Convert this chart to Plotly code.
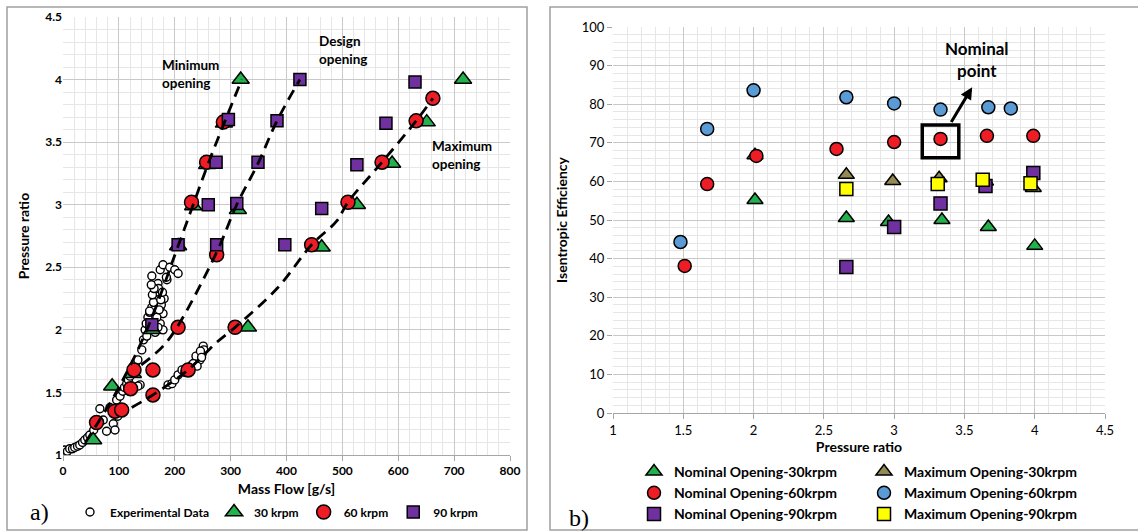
import plotly.graph_objects as go

# ---------------- Panel a) data: mass flow [g/s] vs pressure ratio ----------------
exp_flow = [3, 8, 12, 17, 21, 26, 30, 35, 39, 44, 48, 55, 61, 66, 72, 78, 84, 90, 93, 96, 98, 102,
            107, 110, 114, 117, 120, 123, 126, 130, 134, 138, 141, 144, 147, 149, 152, 155, 159,
            162, 165, 168, 159, 174, 179, 191, 200, 206, 174, 179, 179, 174, 170, 186, 134, 150,
            155, 162, 166, 171, 176, 181, 185, 160, 163, 168, 172, 175, 178, 170, 165, 158,
            188, 195, 200, 206, 213, 222, 231, 236, 242, 249, 251, 245, 252, 228, 218, 238, 246,
            233, 240, 248]
exp_pr = [1.04, 1.03, 1.05, 1.05, 1.06, 1.07, 1.08, 1.10, 1.12, 1.14, 1.16, 1.20, 1.25, 1.37, 1.28,
          1.19, 1.38, 1.25, 1.20, 1.44, 1.31, 1.47, 1.51, 1.54, 1.57, 1.60, 1.63, 1.67, 1.71, 1.74,
          1.76, 1.56, 1.84, 1.92, 2.00, 2.05, 2.10, 2.14, 2.18, 2.22, 2.27, 2.35, 2.43, 2.48, 2.52,
          2.50, 2.48, 2.45, 2.05, 2.13, 2.00, 2.18, 2.37, 2.40, 1.55, 1.95, 2.15, 2.22, 2.30, 2.33,
          2.20, 2.25, 2.42, 2.28, 2.33, 2.10, 2.16, 2.24, 2.30, 2.02, 1.98, 2.36,
          1.56, 1.57, 1.60, 1.64, 1.68, 1.69, 1.72, 1.74, 1.77, 1.81, 1.87, 1.76, 1.84, 1.70, 1.66,
          1.79, 1.83, 1.73, 1.71, 1.78]

k30_flow = [54, 88, 125, 159, 206, 233, 258, 288, 318, 313, 331, 463, 526, 589, 651, 716]
k30_pr = [1.12, 1.55, 1.65, 2.00, 2.67, 2.99, 3.32, 3.65, 4.00, 2.96, 2.02, 2.66, 3.00, 3.33, 3.66, 4.00]

k60_flow = [60, 93, 105, 121, 127, 230, 257, 287, 161, 206, 275, 161, 224, 308, 445, 510, 571, 632, 662]
k60_pr = [1.26, 1.35, 1.36, 1.53, 1.68, 3.02, 3.34, 3.66, 1.68, 2.02, 2.60, 1.48, 1.68, 2.02, 2.68,
          3.02, 3.34, 3.67, 3.85]

k90_flow = [159, 206, 260, 274, 296, 275, 311, 349, 383, 424, 397, 463, 526, 578, 630]
k90_pr = [2.04, 2.68, 3.00, 3.34, 3.68, 2.68, 3.01, 3.34, 3.67, 4.00, 2.68, 2.97, 3.32, 3.65, 3.98]

# trend lines
min_line_flow = [40, 95, 150, 206, 233, 260, 290, 320]
min_line_pr = [1.10, 1.50, 2.00, 2.67, 3.00, 3.33, 3.67, 4.00]
des_line_flow = [140, 177, 204, 275, 311, 349, 383, 424]
des_line_pr = [1.72, 1.86, 2.02, 2.62, 3.00, 3.33, 3.67, 4.00]
max_line_flow = [123, 161, 224, 275, 308, 383, 445, 490, 510, 571, 632, 662]
max_line_pr = [1.38, 1.48, 1.68, 1.90, 2.02, 2.33, 2.68, 2.87, 3.02, 3.34, 3.67, 3.85]

# ---------------- Panel b) data: pressure ratio vs isentropic efficiency ----------------
n30_pr = [2.01, 2.66, 2.96, 3.34, 3.67, 4.00]
n30_eff = [55.2, 50.5, 49.5, 50.0, 48.2, 43.3]
m30_pr = [2.01, 2.66, 2.99, 3.32, 3.65, 3.99]
m30_eff = [66.8, 61.7, 60.1, 60.8, 60.0, 58.3]
n60_pr = [1.51, 1.67, 2.02, 2.59, 3.00, 3.33, 3.66, 3.99]
n60_eff = [38.1, 59.3, 66.6, 68.4, 70.2, 71.0, 71.8, 71.8]
m60_pr = [1.48, 1.67, 2.00, 2.66, 3.00, 3.33, 3.67, 3.83]
m60_eff = [44.3, 73.6, 83.6, 81.8, 80.2, 78.6, 79.2, 78.9]
n90_pr = [2.66, 3.00, 3.33, 3.65, 3.99]
n90_eff = [37.8, 48.2, 54.3, 58.8, 62.2]
m90_pr = [2.66, 3.31, 3.63, 3.97]
m90_eff = [58.0, 59.3, 60.4, 59.5]

W, H = 1138, 532
FONT = "Lato"
GREEN = "#22b14c"
RED = "#ee1c24"
PURPLE = "#7030a0"
BLUE = "#5b9bd5"
OLIVE = "#948a54"
YELLOW = "#ffff00"

fig = go.Figure()

def mk(sym, color, size, lw=1.5):
    return dict(symbol=sym, color=color, size=size, line=dict(color="black", width=lw))

# left panel markers
fig.add_trace(go.Scatter(x=exp_flow, y=exp_pr, mode="markers", name="Experimental Data",
                         marker=mk("circle", "white", 8, 1.4), xaxis="x", yaxis="y", legend="legend"))
fig.add_trace(go.Scatter(x=k30_flow, y=k30_pr, mode="markers", name="30 krpm",
                         marker=mk("triangle-up", GREEN, 15), xaxis="x", yaxis="y", legend="legend"))
fig.add_trace(go.Scatter(x=k60_flow, y=k60_pr, mode="markers", name="60 krpm",
                         marker=mk("circle", RED, 14), xaxis="x", yaxis="y", legend="legend"))
fig.add_trace(go.Scatter(x=k90_flow, y=k90_pr, mode="markers", name="90 krpm",
                         marker=mk("square", PURPLE, 12), xaxis="x", yaxis="y", legend="legend"))
for lx, ly in [(min_line_flow, min_line_pr), (des_line_flow, des_line_pr), (max_line_flow, max_line_pr)]:
    fig.add_trace(go.Scatter(x=lx, y=ly, mode="lines", showlegend=False, hoverinfo="skip",
                             line=dict(color="black", width=2.8, dash="11px,7px", shape="spline"),
                             xaxis="x", yaxis="y"))

# right panel markers
fig.add_trace(go.Scatter(x=n30_pr, y=n30_eff, mode="markers", name="Nominal Opening-30krpm",
                         marker=mk("triangle-up", GREEN, 14), xaxis="x2", yaxis="y2", legend="legend2"))
fig.add_trace(go.Scatter(x=m30_pr, y=m30_eff, mode="markers", name="Maximum Opening-30krpm",
                         marker=mk("triangle-up", OLIVE, 14), xaxis="x2", yaxis="y2", legend="legend3"))
fig.add_trace(go.Scatter(x=m60_pr, y=m60_eff, mode="markers", name="Maximum Opening-60krpm",
                         marker=mk("circle", BLUE, 13), xaxis="x2", yaxis="y2", legend="legend3"))
fig.add_trace(go.Scatter(x=n60_pr, y=n60_eff, mode="markers", name="Nominal Opening-60krpm",
                         marker=mk("circle", RED, 13), xaxis="x2", yaxis="y2", legend="legend2"))
fig.add_trace(go.Scatter(x=n90_pr, y=n90_eff, mode="markers", name="Nominal Opening-90krpm",
                         marker=mk("square", PURPLE, 13), xaxis="x2", yaxis="y2", legend="legend2"))
fig.add_trace(go.Scatter(x=m90_pr, y=m90_eff, mode="markers", name="Maximum Opening-90krpm",
                         marker=mk("square", YELLOW, 13), xaxis="x2", yaxis="y2", legend="legend3"))

def px_x(p):
    return p / W

def px_y(p):
    return 1 - p / H

grid_major = "#c9c9c9"
grid_minor = "#e6e6e6"

fig.update_layout(
    width=W, height=H, margin=dict(l=0, r=0, t=0, b=0, autoexpand=False),
    paper_bgcolor="white", plot_bgcolor="white",
    font=dict(family=FONT, color="black"),
    xaxis=dict(domain=[px_x(63), px_x(510)], range=[0, 800], dtick=100, anchor="y", automargin=False,
               showgrid=True, gridcolor=grid_major, gridwidth=1,
               minor=dict(dtick=20, showgrid=True, gridcolor=grid_minor),
               showline=True, linecolor="#a6a6a6", ticks="outside", ticklen=5, tickcolor="#a6a6a6",
               tickfont=dict(family=FONT, size=12, weight="bold"), zeroline=False,
               title=dict(text="Mass Flow [g/s]", font=dict(family=FONT, size=14, weight="bold"), standoff=6)),
    yaxis=dict(domain=[px_y(455), px_y(17)], range=[1, 4.5], dtick=0.5, anchor="x", automargin=False,
               showgrid=True, gridcolor=grid_major, gridwidth=1,
               minor=dict(dtick=0.1, showgrid=True, gridcolor=grid_minor),
               showline=False, ticks="", zeroline=False,
               tickfont=dict(family=FONT, size=12, weight="bold"),
               title=dict(text="Pressure ratio", font=dict(family=FONT, size=14, weight="bold"), standoff=12)),
    xaxis2=dict(domain=[px_x(613), px_x(1105)], range=[1, 4.5], dtick=0.5, anchor="y2", automargin=False,
                showgrid=True, gridcolor=grid_major, gridwidth=1,
                minor=dict(dtick=0.1, showgrid=True, gridcolor=grid_minor),
                showline=True, linecolor="#a6a6a6", ticks="outside", ticklen=5, tickcolor="#a6a6a6",
                tickfont=dict(family=FONT, size=13), zeroline=False,
                title=dict(text="Pressure ratio", font=dict(family=FONT, size=14, weight="bold"), standoff=2)),
    yaxis2=dict(domain=[px_y(413), px_y(27)], range=[0, 100], dtick=10, anchor="x2", automargin=False,
                showgrid=True, gridcolor=grid_major, gridwidth=1,
                minor=dict(dtick=2, showgrid=True, gridcolor=grid_minor),
                showline=False, ticks="outside", ticklen=5, tickcolor="#a6a6a6", zeroline=False,
                tickfont=dict(family=FONT, size=13),
                title=dict(text="Isentropic Efficiency", font=dict(family=FONT, size=14, weight="bold"), standoff=10)),
    legend=dict(orientation="h", x=px_x(70), y=px_y(512), xanchor="left", yanchor="middle",
                itemwidth=30, font=dict(family=FONT, size=12, weight="bold"),
                bgcolor="rgba(0,0,0,0)", tracegroupgap=0),
    legend2=dict(orientation="v", x=px_x(634), y=px_y(456), xanchor="left", yanchor="top",
                 itemwidth=30, font=dict(family=FONT, size=14, weight="bold"),
                 bgcolor="rgba(0,0,0,0)", traceorder="normal"),
    legend3=dict(orientation="v", x=px_x(864), y=px_y(456), xanchor="left", yanchor="top",
                 itemwidth=30, font=dict(family=FONT, size=14, weight="bold"),
                 bgcolor="rgba(0,0,0,0)", traceorder="normal"),
    showlegend=True,
)

# panel frames
fig.add_shape(type="rect", xref="paper", yref="paper", x0=px_x(7), x1=px_x(527), y0=px_y(530), y1=px_y(7),
              line=dict(color="#a0a0a0", width=1.5), layer="below")
fig.add_shape(type="rect", xref="paper", yref="paper", x0=px_x(550), x1=px_x(1145), y0=px_y(530), y1=px_y(7),
              line=dict(color="#a0a0a0", width=1.5), layer="below")

# panel labels
fig.add_annotation(text="a)", xref="paper", yref="paper", x=px_x(28), y=px_y(512), showarrow=False,
                   font=dict(family="Liberation Serif", size=24), xanchor="left", yanchor="middle")
fig.add_annotation(text="b)", xref="paper", yref="paper", x=px_x(567), y=px_y(518), showarrow=False,
                   font=dict(family="Liberation Serif", size=24), xanchor="left", yanchor="middle")

# opening labels
bold13 = dict(family=FONT, size=13.5, weight="bold", color="black")
fig.add_annotation(text="Minimum<br>opening", xref="paper", yref="paper", x=px_x(160), y=px_y(74),
                   showarrow=False, align="left", xanchor="left", yanchor="middle", font=bold13)
fig.add_annotation(text="Design<br>opening", xref="paper", yref="paper", x=px_x(317), y=px_y(50),
                   showarrow=False, align="left", xanchor="left", yanchor="middle", font=bold13)
fig.add_annotation(text="Maximum<br>opening", xref="paper", yref="paper", x=px_x(430), y=px_y(155),
                   showarrow=False, align="left", xanchor="left", yanchor="middle", font=bold13)

# nominal point highlight
fig.add_shape(type="rect", xref="x2", yref="y2", x0=3.20, x1=3.46, y0=66.1, y1=74.6,
              line=dict(color="black", width=3.5))
fig.add_annotation(xref="x2", yref="y2", axref="x2", ayref="y2", x=3.555, y=84.4, ax=3.40, ay=75.0,
                   text="", showarrow=True, arrowhead=2, arrowsize=0.8, arrowwidth=3, arrowcolor="black")
fig.add_annotation(text="Nominal<br>point", xref="paper", yref="paper", x=px_x(977), y=px_y(60),
                   showarrow=False, align="center", xanchor="center", yanchor="middle",
                   font=dict(family=FONT, size=17, weight="bold", color="black"))

fig.write_html("out.html", config={"displayModeBar": False},
               post_script="document.body.style.margin='0px';document.body.style.overflow='hidden';")
